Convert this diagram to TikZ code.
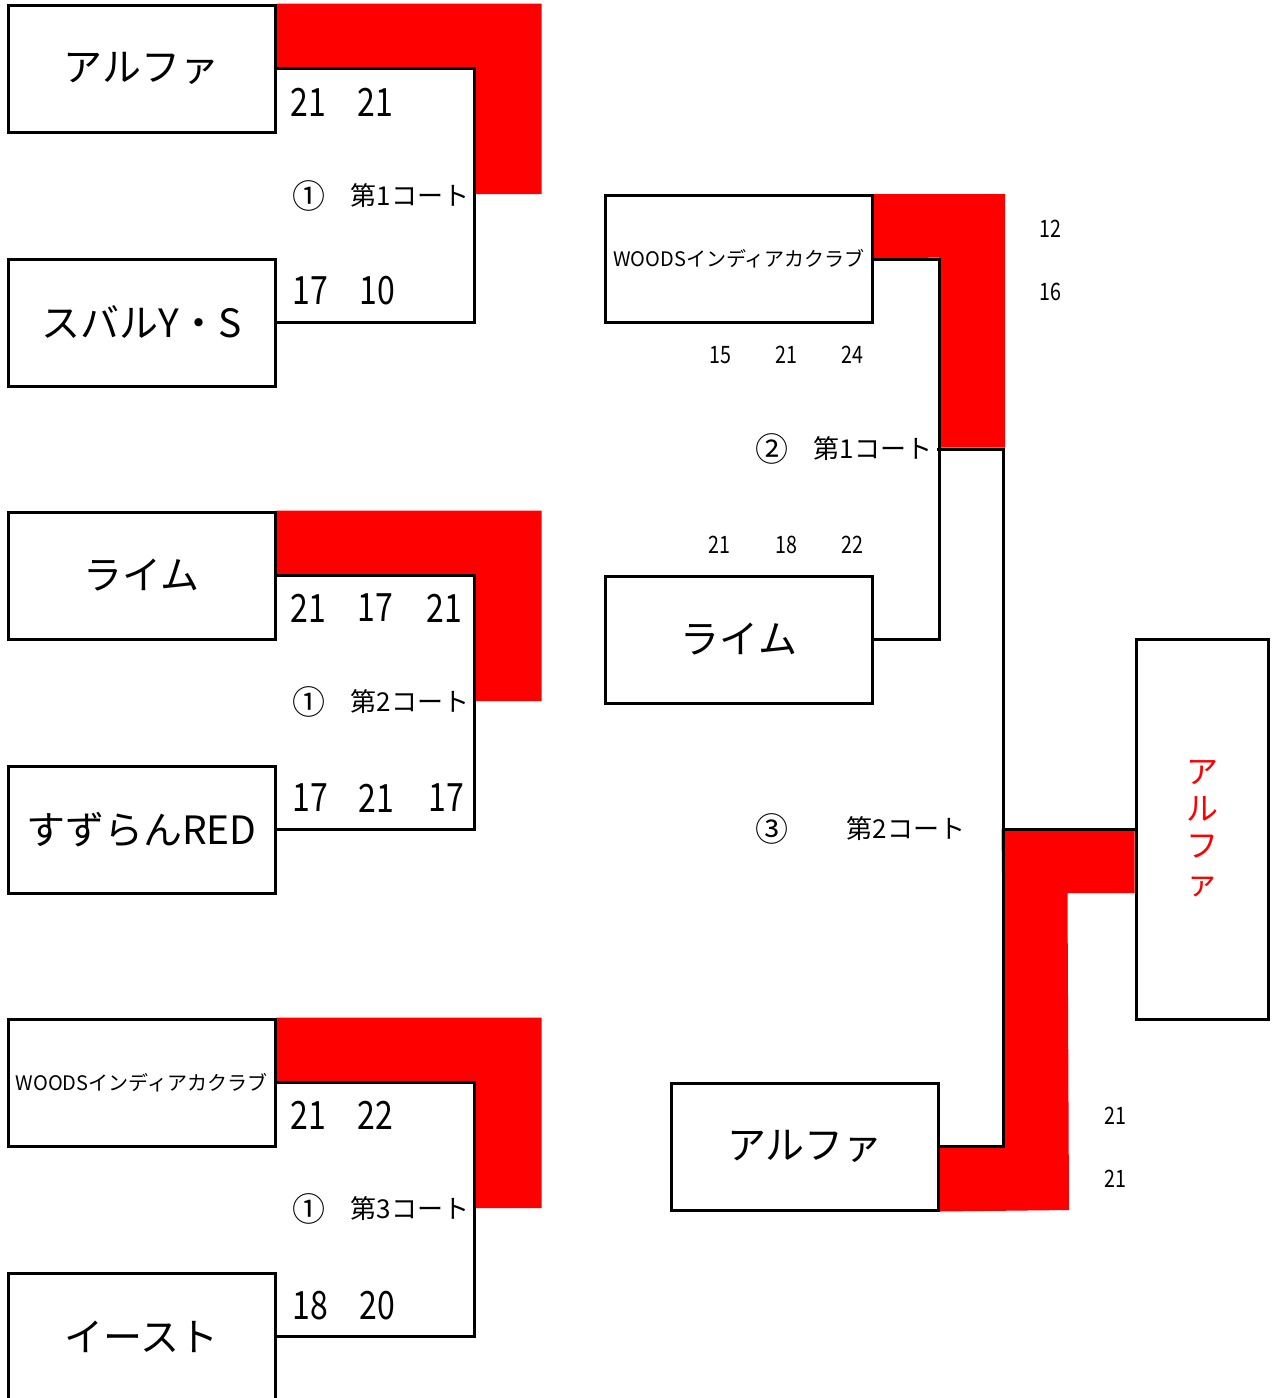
\documentclass[tikz,border=0pt]{standalone}
\usepackage{fontspec}
\setmainfont{Noto Sans CJK JP}
\newfontfamily\numfont[FakeStretch=0.82]{Noto Sans CJK JP}
\usetikzlibrary{backgrounds}
\tikzset{
  team/.style={draw, line width=3pt, minimum width=267pt, minimum height=127pt, inner sep=0pt, font=\fontsize{39}{39}\selectfont},
  wfont/.style={font=\fontsize{20}{20}\selectfont},
  final/.style={draw, line width=3pt, minimum width=132pt, minimum height=380pt, inner sep=0pt, align=center, text=red, font=\fontsize{32}{37}\selectfont},
  conn/.style={draw, line width=3pt},
  winband/.style={fill=red},
  score/.style={inner sep=0pt, font=\numfont\fontsize{39}{39}\selectfont},
  small/.style={inner sep=0pt, font=\numfont\fontsize{24}{24}\selectfont},
  court/.style={inner sep=0pt, font=\fontsize{26}{26}\selectfont},
  circ/.style={inner sep=0pt, font=\fontsize{33}{33}\selectfont}
}
\begin{document}
\begin{tikzpicture}[x=1pt,y=-1pt]
\useasboundingbox (0,0) rectangle (1273,1398);
\clip (0,0) rectangle (1273,1398);
% left teams
\node[team] (a1) at (141.5,68.5) {アルファ};
\node[team] (b1) at (141.5,322.5) {スバルY・S};
\node[team] (a2) at (141.5,575.5) {ライム};
\node[team] (b2) at (141.5,829.5) {すずらんRED};
\node[team,wfont] (a3) at (141.5,1082.5) {WOODSインディアカクラブ};
\node[team] (b3) at (141.5,1336.5) {イースト};
% second round
\node[team,wfont] (w2) at (739,259) {WOODSインディアカクラブ};
\node[team] (l2) at (739,639.5) {ライム};
\node[team] (r3) at (805,1146.5) {アルファ};
\node[final] (win) at (1202,829) {ア\\ル\\フ\\ァ};
% connectors
\foreach \a/\b in {a1/b1,a2/b2,a3/b3}{
  \draw[conn] (\a.east) -- ++(198,0) |- (\b.east);
}
\draw[conn] (w2.east) -- ++(65,0) coordinate (m2top) |- (l2.east);
\coordinate (m2) at (937,449);
\draw[conn] (m2) -- ++(66,0) coordinate (m3top) |- (r3.east);
\draw[conn] (win.west) -- ++(-133,0) coordinate (m3mid);
% red bands
\begin{scope}[on background layer]
\foreach \a in {a1,a2,a3}{
  \fill[winband] (\a.north east) -- ++(265,0) -- ++(0,190.5) -- ++(-67,0) -- ++(0,-127) -- (\a.east) -- cycle;
}
\fill[winband] (w2.north east) -- ++(131,0) -- ++(0,253.5) -- ++(-66,0) -- ++(0,-190) -- (w2.east) -- cycle;
\fill[winband] (win.west) -- ++(0,64) -- ++(-67,0) -- (1069,1210) -- (r3.south east) -- (r3.east) -- ++(65,0) -- (m3mid) -- cycle;
\end{scope}
% block 1 scores
\node[score] (s11) at (308,102) {21};
\node[score] (s12) at (375,102) {21};
\node[score] (t11) at (310,291) {17};
\node[score] (t12) at (377,291) {10};
\node[circ] (c1) at (309,196) {①};
\node[court] (k1) at (410,196) {第1コート};
% block 2 scores
\node[score] (s21) at (308,608) {21};
\node[score] (s22) at (375,608) {17};
\node[score] (s23) at (444,608) {21};
\node[score] (t21) at (310,798) {17};
\node[score] (t22) at (376,798) {21};
\node[score] (t23) at (446,798) {17};
\node[circ] (c2) at (309,702) {①};
\node[court] (k2) at (410,702) {第2コート};
% block 3 scores
\node[score] (s31) at (308,1115) {21};
\node[score] (s32) at (375,1115) {22};
\node[score] (t31) at (310,1306) {18};
\node[score] (t32) at (377,1306) {20};
\node[circ] (c3) at (309,1209) {①};
\node[court] (k3) at (410,1209) {第3コート};
% semifinal
\node[small] (u1) at (720,355) {15};
\node[small] (u2) at (786,355) {21};
\node[small] (u3) at (852,355) {24};
\node[small] (v1) at (719,545) {21};
\node[small] (v2) at (786,545) {18};
\node[small] (v3) at (852,545) {22};
\node[circ] (c4) at (772,449) {②};
\node[court] (k4) at (873,449) {第1コート};
% final
\node[small] (f1) at (1050,229) {12};
\node[small] (f2) at (1050,292) {16};
\node[small] (g1) at (1115,1116) {21};
\node[small] (g2) at (1115,1179) {21};
\node[circ] (c5) at (772,829) {③};
\node[court] (k5) at (906,829) {第2コート};
\end{tikzpicture}
\end{document}
